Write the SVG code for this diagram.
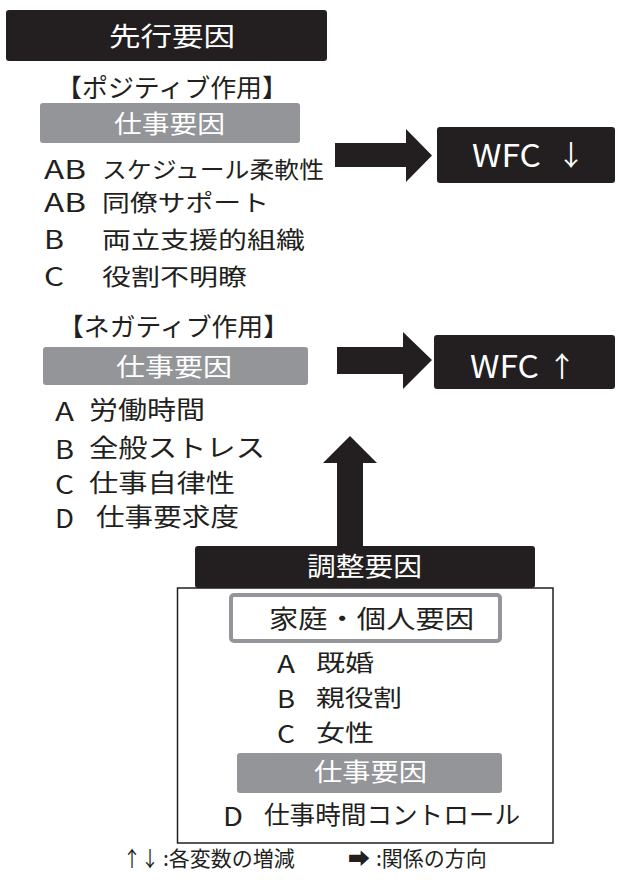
<svg xmlns="http://www.w3.org/2000/svg" width="618" height="887" viewBox="0 0 618 887">
<style>
.t{font-family:"Noto Sans CJK JP","Noto Sans",sans-serif;font-weight:400;fill:#231f20}
.w{fill:#ffffff}
.blk{fill:#231f20}
.gry{fill:#939598}
.lat{font-family:"Noto Sans CJK JP","Noto Sans",sans-serif;font-weight:400}
</style>
<rect width="618" height="887" fill="#ffffff"/>

<g id="header-antecedent">
  <rect class="blk" x="6" y="10" width="321" height="51" rx="3"/>
  <text class="t w" x="109" y="46" font-size="26" textLength="126" lengthAdjust="spacingAndGlyphs">先行要因</text>
</g>

<g id="positive">
  <text class="t" x="56" y="97" font-size="25" textLength="232" lengthAdjust="spacingAndGlyphs">【ポジティブ作用】</text>
  <rect class="gry" x="40" y="103" width="260" height="40" rx="3"/>
  <text class="t w" x="114" y="133" font-size="25" textLength="111" lengthAdjust="spacingAndGlyphs">仕事要因</text>
  <text class="t lat" x="44" y="179" font-size="25" textLength="42" lengthAdjust="spacingAndGlyphs">AB</text>
  <text class="t" x="102" y="178" font-size="23" textLength="222" lengthAdjust="spacingAndGlyphs">スケジュール柔軟性</text>
  <text class="t lat" x="44" y="212" font-size="25" textLength="42" lengthAdjust="spacingAndGlyphs">AB</text>
  <text class="t" x="102" y="211" font-size="23" textLength="167" lengthAdjust="spacingAndGlyphs">同僚サポート</text>
  <text class="t lat" x="44" y="249" font-size="25" textLength="20" lengthAdjust="spacingAndGlyphs">B</text>
  <text class="t" x="102" y="248" font-size="23" textLength="203" lengthAdjust="spacingAndGlyphs">両立支援的組織</text>
  <text class="t lat" x="44" y="286" font-size="25" textLength="20" lengthAdjust="spacingAndGlyphs">C</text>
  <text class="t" x="102" y="285" font-size="23" textLength="145" lengthAdjust="spacingAndGlyphs">役割不明瞭</text>
</g>

<g id="wfc-down">
  <rect class="blk" x="437" y="127" width="178" height="56" rx="3"/>
  <text class="lat w" x="472" y="167" font-size="31" textLength="69" lengthAdjust="spacingAndGlyphs">WFC</text>
  <text class="t w" x="571" y="166" font-size="28" text-anchor="middle">↓</text>
</g>

<g id="negative">
  <text class="t" x="58" y="336" font-size="25" textLength="231" lengthAdjust="spacingAndGlyphs">【ネガティブ作用】</text>
  <rect class="gry" x="43" y="347" width="265" height="38" rx="3"/>
  <text class="t w" x="116" y="376" font-size="25" textLength="116" lengthAdjust="spacingAndGlyphs">仕事要因</text>
  <text class="t lat" x="55" y="421" font-size="25" textLength="19" lengthAdjust="spacingAndGlyphs">A</text>
  <text class="t" x="89" y="419" font-size="25" textLength="116" lengthAdjust="spacingAndGlyphs">労働時間</text>
  <text class="t lat" x="55" y="459" font-size="25" textLength="19" lengthAdjust="spacingAndGlyphs">B</text>
  <text class="t" x="89" y="457" font-size="25" textLength="176" lengthAdjust="spacingAndGlyphs">全般ストレス</text>
  <text class="t lat" x="55" y="494" font-size="25" textLength="19" lengthAdjust="spacingAndGlyphs">C</text>
  <text class="t" x="89" y="492" font-size="25" textLength="146" lengthAdjust="spacingAndGlyphs">仕事自律性</text>
  <text class="t lat" x="55" y="528" font-size="25" textLength="19" lengthAdjust="spacingAndGlyphs">D</text>
  <text class="t" x="96" y="526" font-size="25" textLength="143" lengthAdjust="spacingAndGlyphs">仕事要求度</text>
</g>

<g id="wfc-up">
  <rect class="blk" x="434" y="335" width="181" height="54" rx="3"/>
  <text class="lat w" x="470" y="378" font-size="31" textLength="69" lengthAdjust="spacingAndGlyphs">WFC</text>
  <text class="t w" x="562" y="377" font-size="28" text-anchor="middle">↑</text>
</g>

<g id="moderator">
  <rect x="177.5" y="588" width="375.5" height="255" fill="#ffffff" stroke="#231f20" stroke-width="1.5"/>
  <rect class="blk" x="195" y="546" width="340" height="42" rx="3"/>
  <text class="t w" x="307" y="576" font-size="26" textLength="115" lengthAdjust="spacingAndGlyphs">調整要因</text>
  <rect x="231" y="595" width="269" height="46" rx="3" fill="#ffffff" stroke="#939598" stroke-width="4"/>
  <text class="t" x="269" y="628" font-size="25" textLength="205" lengthAdjust="spacingAndGlyphs">家庭・個人要因</text>
  <text class="t lat" x="277" y="673" font-size="24" textLength="18" lengthAdjust="spacingAndGlyphs">A</text>
  <text class="t" x="316" y="671" font-size="23" textLength="58" lengthAdjust="spacingAndGlyphs">既婚</text>
  <text class="t lat" x="277" y="708" font-size="24" textLength="18" lengthAdjust="spacingAndGlyphs">B</text>
  <text class="t" x="316" y="706" font-size="23" textLength="86" lengthAdjust="spacingAndGlyphs">親役割</text>
  <text class="t lat" x="277" y="743" font-size="24" textLength="18" lengthAdjust="spacingAndGlyphs">C</text>
  <text class="t" x="316" y="741" font-size="23" textLength="58" lengthAdjust="spacingAndGlyphs">女性</text>
  <rect class="gry" x="237" y="753" width="265" height="40" rx="3"/>
  <text class="t w" x="314" y="781" font-size="25" textLength="113" lengthAdjust="spacingAndGlyphs">仕事要因</text>
  <text class="t lat" x="223" y="826" font-size="26" textLength="20" lengthAdjust="spacingAndGlyphs">D</text>
  <text class="t" x="264" y="824" font-size="25" textLength="256" lengthAdjust="spacingAndGlyphs">仕事時間コントロール</text>
</g>

<g id="connectors">
  <polygon class="blk" points="335,143 406,143 406,129 432,155.5 406,182 406,167 335,167"/>
  <polygon class="blk" points="337,347 403,347 403,332 432,360 403,389 403,374 337,374"/>
  <polygon class="blk" points="337,546 337,463 323,463 350,436 377,463 363,463 363,546"/>
</g>

<g id="legend">
  <text class="t" x="123" y="866" font-size="21" textLength="36" lengthAdjust="spacingAndGlyphs">↑↓</text>
  <text class="t" x="163" y="866" font-size="21">:各変数の増減</text>
  <text class="t" x="348" y="866" font-size="22" font-family="DejaVu Sans">➡</text>
  <text class="t" x="376" y="866" font-size="21">:関係の方向</text>
</g>
</svg>
